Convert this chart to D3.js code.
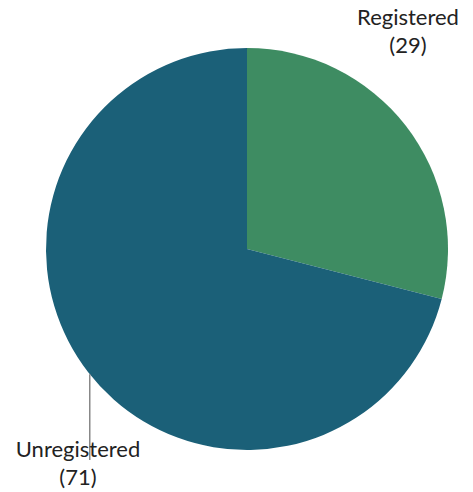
<!DOCTYPE html>
<html>
<head>
<meta charset="utf-8">
<script src="https://cdn.jsdelivr.net/npm/d3@7"></script>
<style>
  body { margin: 0; background: #fff; }
  text { font-family: "Lato", "DejaVu Sans", sans-serif; font-size: 22px; fill: #222; }
</style>
</head>
<body>
<div id="chart"></div>
<script>
// Data
const categories = ["Registered", "Unregistered"];
const values = [29, 71];
const colors = ["#3e8c62", "#1b6078"];

const width = 473;
const height = 492;
const cx = 247, cy = 249, radius = 201;

const svg = d3.select("#chart")
  .append("svg")
  .attr("width", width)
  .attr("height", height);

const pie = d3.pie().sort(null).value(d => d.value);
const arcs = pie(categories.map((c, i) => ({ name: c, value: values[i] })));

const arc = d3.arc().innerRadius(0).outerRadius(radius);

const g = svg.append("g").attr("transform", `translate(${cx},${cy})`);

g.selectAll("path")
  .data(arcs)
  .join("path")
  .attr("d", arc)
  .attr("fill", (d, i) => colors[i]);

// leader line for Unregistered label (x matches point on the arc)
const leaderAngle = 4.04;
const lx = radius * Math.sin(leaderAngle);
const ly = -radius * Math.cos(leaderAngle);
g.append("line")
  .attr("x1", lx).attr("y1", ly)
  .attr("x2", lx).attr("y2", 460 - cy)
  .attr("stroke", "#888")
  .attr("stroke-width", 1.5);

// Labels
const labelPos = [
  { x: 408, y: 25 },
  { x: 78, y: 457 }
];
arcs.forEach((d, i) => {
  const t = svg.append("text")
    .attr("x", labelPos[i].x)
    .attr("y", labelPos[i].y)
    .attr("text-anchor", "middle");
  t.append("tspan").attr("x", labelPos[i].x).text(d.data.name);
  t.append("tspan").attr("x", labelPos[i].x).attr("dy", 28).text(`(${d.data.value})`);
});
</script>
</body>
</html>
